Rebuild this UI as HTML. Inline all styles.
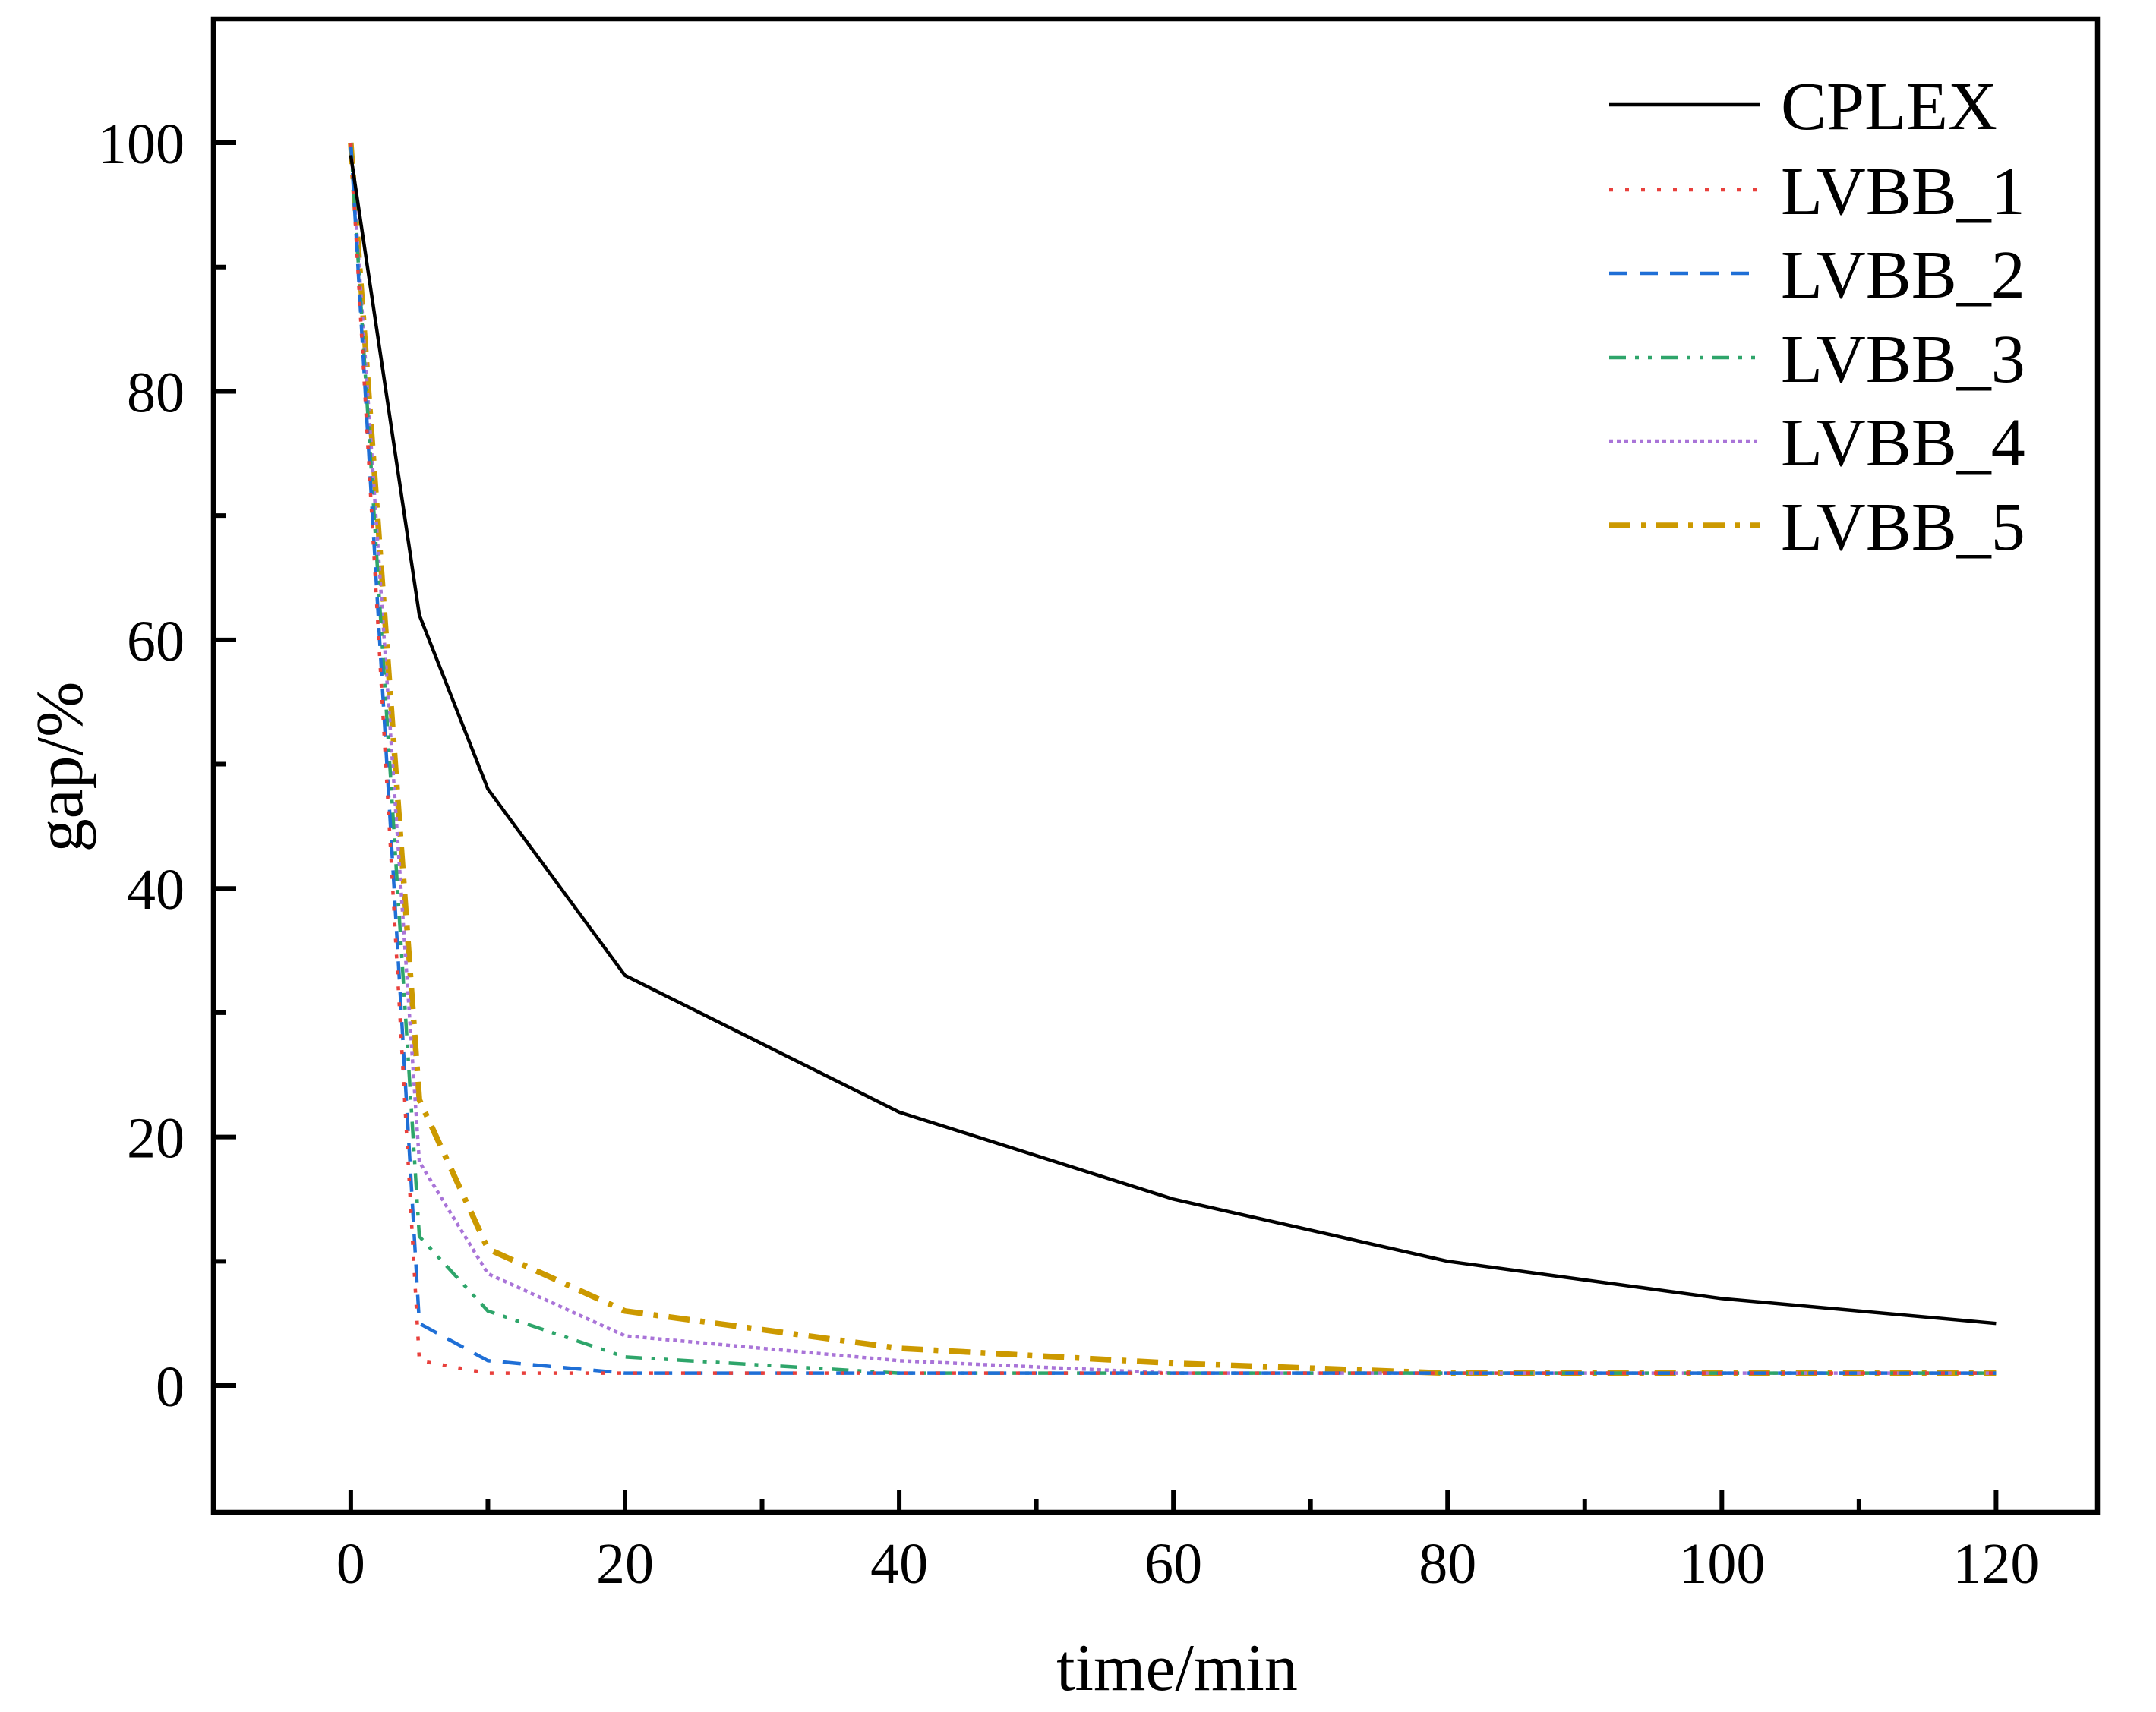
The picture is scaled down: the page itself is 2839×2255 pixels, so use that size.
<!DOCTYPE html>
<html><head><meta charset="utf-8"><style>
html,body{margin:0;padding:0;background:#fff;}
svg{display:block;font-family:"Liberation Serif",serif;}
</style></head><body>
<svg id="chart" width="2839" height="2255" viewBox="0 0 2839 2255" xmlns="http://www.w3.org/2000/svg">
<g id="series"></g>
<rect x="281" y="25" width="2481" height="1967" fill="none" stroke="#000" stroke-width="6.5"/>
<g id="axes"></g>
<g id="legend"></g>
<text x="1550" y="2226" font-size="88" text-anchor="middle">time/min</text>
<text transform="translate(108,1010) rotate(-90)" font-size="88" text-anchor="middle">gap/%</text>
</svg>
<script>
const xTicks = [0, 20, 40, 60, 80, 100, 120];
const yTicks = [0, 20, 40, 60, 80, 100];
const times = [0, 5, 10, 20, 40, 60, 80, 100, 120];
const seriesNames = ["CPLEX", "LVBB_1", "LVBB_2", "LVBB_3", "LVBB_4", "LVBB_5"];
const cplex = [99, 62, 48, 33, 22, 15, 10, 7, 5];
const lvbb1 = [100, 2, 1, 1, 1, 1, 1, 1, 1];
const lvbb2 = [100, 5, 2, 1, 1, 1, 1, 1, 1];
const lvbb3 = [100, 12, 6, 2.3, 1, 1, 1, 1, 1];
const lvbb4 = [100, 18, 9, 4, 2, 1, 1, 1, 1];
const lvbb5 = [100, 23, 11, 6, 3, 1.8, 1, 1, 1];

const NS = "http://www.w3.org/2000/svg";
const L = 281, R = 2762, T = 25, B = 1992;
const xMin = -10.02, xMax = 127.4, yMin = -10.2, yMax = 109.96;
function xs(v){ return L + (v - xMin) / (xMax - xMin) * (R - L); }
function ys(v){ return B - (v - yMin) / (yMax - yMin) * (B - T); }

const styles = [
  {c:"#000000", w:4.5, d:""},
  {c:"#e8403c", w:4.5, d:"5 16"},
  {c:"#1f6fd6", w:4.5, d:"24 16"},
  {c:"#2ea56a", w:4.5, d:"22 12 5 12 5 12"},
  {c:"#a974d8", w:4.5, d:"5 5"},
  {c:"#cc9900", w:7.5, d:"28 14 6 14"}
];
const allData = [cplex, lvbb1, lvbb2, lvbb3, lvbb4, lvbb5];

const sg = document.getElementById("series");
for (let i = allData.length - 1; i >= 0; i--) {
  const p = document.createElementNS(NS, "polyline");
  p.setAttribute("points", allData[i].map((v, j) => xs(times[j]) + "," + ys(v)).join(" "));
  p.setAttribute("fill", "none");
  p.setAttribute("stroke", styles[i].c);
  p.setAttribute("stroke-width", styles[i].w);
  if (styles[i].d) p.setAttribute("stroke-dasharray", styles[i].d);
  p.setAttribute("stroke-linejoin", "round");
  
  
  sg.appendChild(p);
}

const ag = document.getElementById("axes");
function line(x1, y1, x2, y2, name) {
  const l = document.createElementNS(NS, "line");
  l.setAttribute("x1", x1); l.setAttribute("y1", y1);
  l.setAttribute("x2", x2); l.setAttribute("y2", y2);
  l.setAttribute("stroke", "#000"); l.setAttribute("stroke-width", 6);
  
  
  ag.appendChild(l);
}
function text(x, y, s, anchor, name, size) {
  const t = document.createElementNS(NS, "text");
  t.setAttribute("x", x); t.setAttribute("y", y);
  t.setAttribute("font-size", size);
  t.setAttribute("text-anchor", anchor);
  t.textContent = s;
  
  
  return t;
}
for (let v = 0; v <= 120; v += 10) {
  const major = xTicks.includes(v);
  line(xs(v), B, xs(v), B - (major ? 30 : 17), major ? "x-major-tick" : "x-minor-tick");
}
for (let v = 0; v <= 100; v += 10) {
  const major = yTicks.includes(v);
  line(L, ys(v), L + (major ? 30 : 17), ys(v), major ? "y-major-tick" : "y-minor-tick");
}
xTicks.forEach(v => ag.appendChild(text(xs(v), 2085, String(v), "middle", "x-tick-label", 76)));
yTicks.forEach(v => ag.appendChild(text(243, ys(v) + 27, String(v), "end", "y-tick-label", 76)));

const lg = document.getElementById("legend");
const rowY = [138, 250, 360, 471, 581, 692];
seriesNames.forEach((n, i) => {
  const l = document.createElementNS(NS, "line");
  l.setAttribute("x1", 2119); l.setAttribute("x2", 2318);
  l.setAttribute("y1", rowY[i]); l.setAttribute("y2", rowY[i]);
  l.setAttribute("stroke", styles[i].c); l.setAttribute("stroke-width", styles[i].w);
  if (styles[i].d) l.setAttribute("stroke-dasharray", styles[i].d);
  
  
  lg.appendChild(l);
  lg.appendChild(text(2345, rowY[i] + 32, n, "start", "legend-entry", 90));
});
</script>
</body></html>
